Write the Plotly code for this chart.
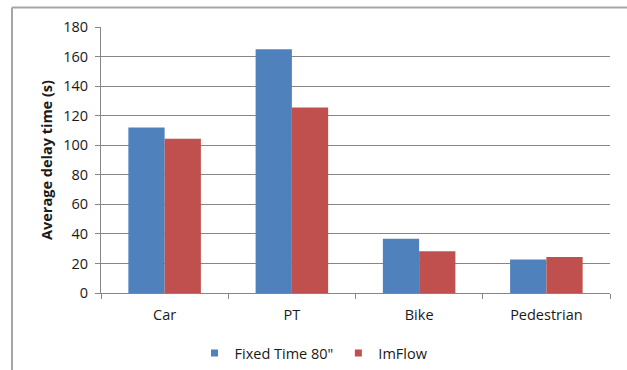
import plotly.graph_objects as go

categories = ["Car", "PT", "Bike", "Pedestrian"]
fixed_time = [112, 165, 36.7, 22.7]
imflow = [104.4, 125.6, 28.3, 24.3]
series_names = ["Fixed Time 80\"", "ImFlow"]
series_colors = ["#4F81BD", "#C0504D"]
y_ticks = [0, 20, 40, 60, 80, 100, 120, 140, 160, 180]

W, H = 627, 370
L, R, T, B = 101, 17, 27, 77
pw, ph = W - L - R, H - T - B

font_family = "Open Sans, Liberation Sans, sans-serif"

fig = go.Figure()
for name, vals, col in zip(series_names, [fixed_time, imflow], series_colors):
    fig.add_trace(go.Bar(x=categories, y=vals, name=name, showlegend=False,
                         marker=dict(color=col, line=dict(width=0))))
# small square legend keys
for name, col in zip(series_names, series_colors):
    fig.add_trace(go.Scatter(x=[None], y=[None], mode="markers", name=name,
                             marker=dict(symbol="square", size=7, color=col)))

# chart-area frame: top and left edges
bx = (12 - L) / pw
by = 1 + (T - 7.5) / ph
fig.add_shape(type="line", xref="paper", yref="paper", x0=bx, x1=1 + R / pw,
              y0=by, y1=by, line=dict(color="#A6A6A6", width=2))
fig.add_shape(type="line", xref="paper", yref="paper", x0=bx, x1=bx,
              y0=by, y1=-B / ph - 0.01, line=dict(color="#A6A6A6", width=2))

fig.update_layout(
    width=W, height=H,
    margin=dict(l=L, r=R, t=T, b=B, autoexpand=False),
    paper_bgcolor="white", plot_bgcolor="white",
    barmode="group", bargap=0.43, bargroupgap=0,
    font=dict(family=font_family, size=14.5, color="#1a1a1a"),
    showlegend=True,
    legend=dict(orientation="h", x=(314 - L) / pw, xanchor="center",
                y=-(337 - T - ph) / ph, yanchor="top",
                font=dict(size=14.5, color="#1a1a1a"), itemwidth=30,
                traceorder="normal", bgcolor="rgba(0,0,0,0)"),
    xaxis=dict(type="category", showline=True, linecolor="#868686", linewidth=1,
               ticks="outside", tickson="boundaries", ticklen=5, tickcolor="#868686",
               tickfont=dict(size=14.5), showgrid=False, ticklabelstandoff=9),
    yaxis=dict(range=[0, 180], tickvals=y_ticks, showline=True, linecolor="#868686",
               linewidth=1, ticks="outside", ticklen=5, tickcolor="#868686",
               showgrid=True, gridcolor="#868686", gridwidth=1, zeroline=False,
               tickfont=dict(size=14.5), ticklabelstandoff=4,
               title=dict(text="<b>Average delay time (s)</b>", font=dict(size=14.5),
                          standoff=7)),
)

fig.write_html("out.html")
